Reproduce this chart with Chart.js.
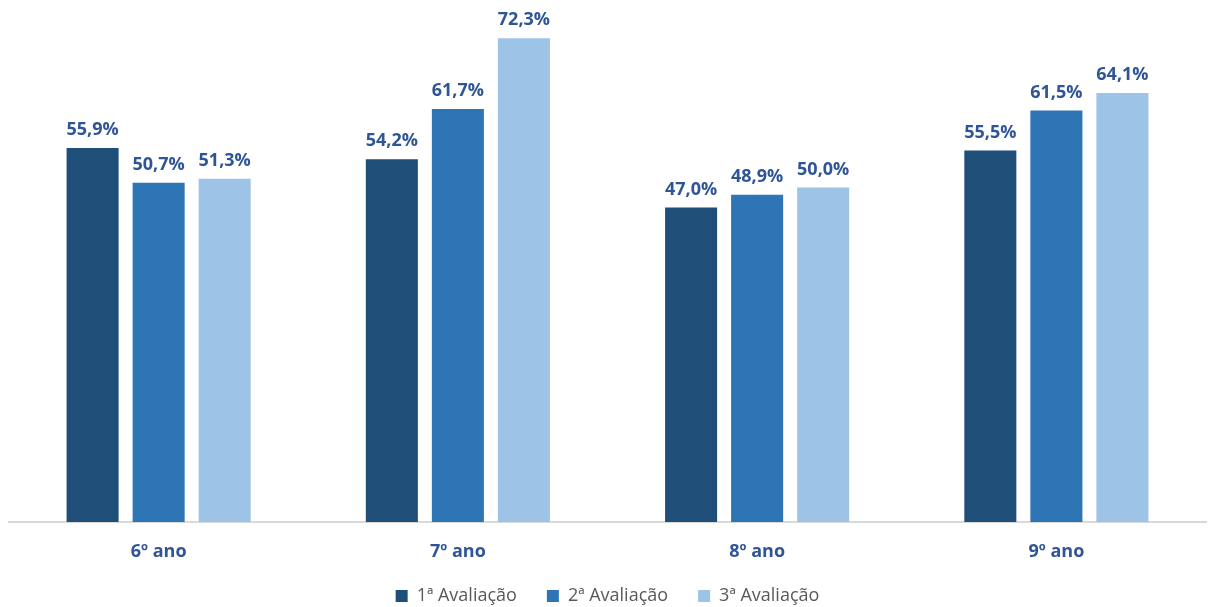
<!DOCTYPE html>
<html>
<head>
<meta charset="utf-8">
<script src="https://cdn.jsdelivr.net/npm/chart.js@4.4.0/dist/chart.umd.min.js"></script>
<style>
  html, body { margin: 0; padding: 0; background: #ffffff; }
  #chart { display: block; }
</style>
</head>
<body>
<canvas id="chart" width="1208" height="607"></canvas>
<script>
var Anos = ['6º ano', '7º ano', '8º ano', '9º ano']
var Avaliacao1 = [55.9, 54.2, 47.0, 55.5]
var Avaliacao2 = [50.7, 61.7, 48.9, 61.5]
var Avaliacao3 = [51.3, 72.3, 50.0, 64.1]
var NomesSeries = ['1ª Avaliação', '2ª Avaliação', '3ª Avaliação']
var CoresSeries = ['#1F4E79', '#2E75B6', '#9DC3E6']

// rótulos de valor acima das barras
var rotulosPlugin = {
    id: 'rotulos',
    afterDatasetsDraw: function (chart) {
        var ctx = chart.ctx
        ctx.save()
        ctx.font = 'bold 18px "Open Sans", sans-serif'
        ctx.fillStyle = '#2F5597'
        ctx.textAlign = 'center'
        ctx.textBaseline = 'bottom'
        chart.data.datasets.forEach(function (ds, i) {
            chart.getDatasetMeta(i).data.forEach(function (bar, j) {
                var txt = ds.data[j].toFixed(1).replace('.', ',') + '%'
                ctx.fillText(txt, bar.x, bar.y - 9)
            })
        })
        ctx.restore()
    }
}

// altura fixa da legenda
var legendaAltura = {
    id: 'legendaAltura',
    beforeInit: function (chart) {
        var fitOriginal = chart.legend.fit
        chart.legend.fit = function () {
            fitOriginal.bind(chart.legend)()
            this.height = 50
        }
    }
}

var config = {
    type: 'bar',
    data: {
        labels: Anos,
        datasets: [
            { label: NomesSeries[0], data: Avaliacao1, backgroundColor: CoresSeries[0] },
            { label: NomesSeries[1], data: Avaliacao2, backgroundColor: CoresSeries[1] },
            { label: NomesSeries[2], data: Avaliacao3, backgroundColor: CoresSeries[2] },
        ],
    },
    plugins: [rotulosPlugin, legendaAltura],
    options: {
        responsive: false,
        animation: false,
        layout: {
            padding: { left: 9, right: 2, top: 0, bottom: 0 }
        },
        datasets: {
            bar: {
                categoryPercentage: 0.662,
                barPercentage: 0.788,
            }
        },
        plugins: {
            tooltip: { enabled: false },
            legend: {
                position: 'bottom',
                labels: {
                    boxWidth: 12,
                    boxHeight: 12,
                    padding: 30,
                    color: '#595959',
                    font: { size: 18, family: '"Open Sans", sans-serif' },
                },
            },
        },
        scales: {
            x: {
                grid: { display: false },
                border: { color: '#D9D9D9', width: 2 },
                ticks: {
                    color: '#2F5597',
                    padding: 11,
                    font: { size: 18, weight: 'bold', family: '"Open Sans", sans-serif' },
                },
                afterFit: function (axis) {
                    axis.height = 35
                },
            },
            y: {
                display: false,
                min: 0,
                max: 78,
            }
        }
    },
}

new Chart(document.getElementById('chart').getContext('2d'), config)
</script>
</body>
</html>
